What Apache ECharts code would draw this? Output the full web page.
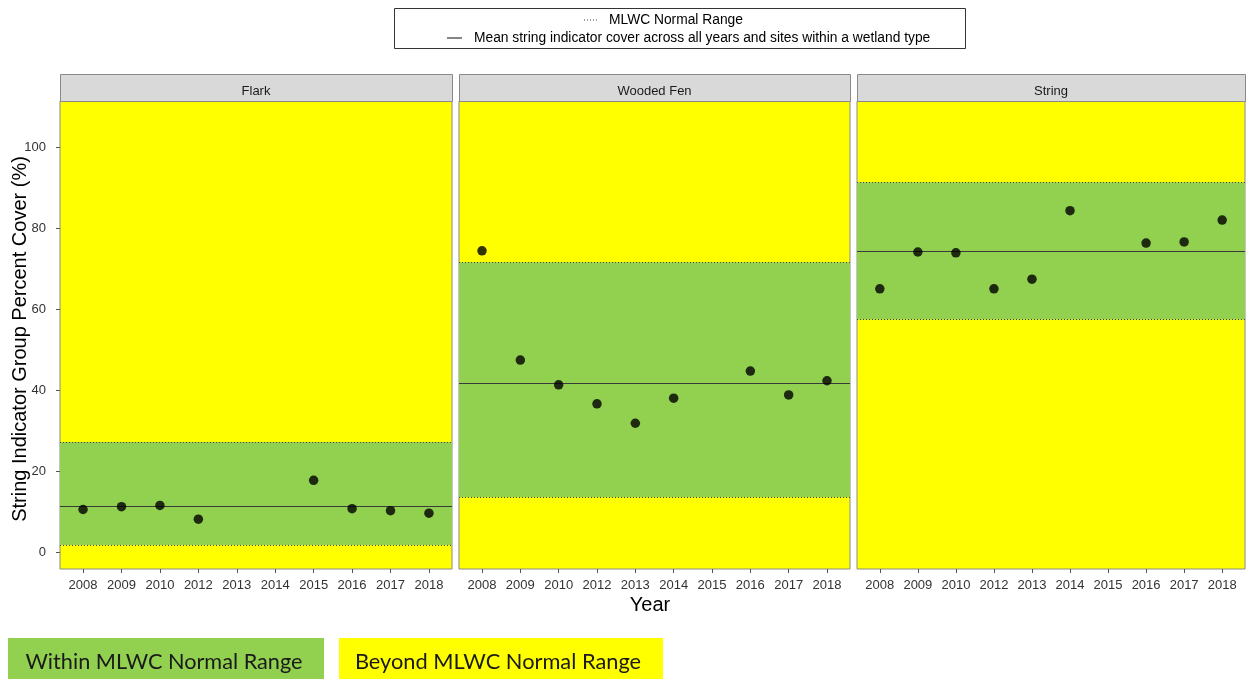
<!DOCTYPE html>
<html>
<head>
<meta charset="utf-8">
<script src="https://cdn.jsdelivr.net/npm/echarts@6/dist/echarts.min.js"></script>
<style>
  html, body { margin: 0; padding: 0; background: #ffffff; }
  #chart { width: 1246px; height: 679px; }
</style>
</head>
<body>
<div id="chart"></div>
<script>
// Survey years shown on each panel's x axis
const years = ['2008', '2009', '2010', '2012', '2013', '2014', '2015', '2016', '2017', '2018'];

// Wetland types (one panel each)
const wetlandTypes = ['Flark', 'Wooded Fen', 'String'];

// String indicator group percent cover per year (null = no survey)
const flarkCover     = [10.5, 11.2, 11.5, 8.1, null, null, 17.7, 10.7, 10.2, 9.6];
const woodedFenCover = [74.4, 47.4, 41.3, 36.6, 31.8, 38.0, null, 44.7, 38.8, 42.3];
const stringCover    = [65.0, 74.1, 73.9, 65.0, 67.4, 84.3, null, 76.3, 76.6, 82.0];

// MLWC normal range (lower, upper) per wetland type
const normalLower = [1.7, 13.5, 57.4];
const normalUpper = [27.2, 71.6, 91.3];

// Mean cover across all years and sites per wetland type
const meanCover = [11.4, 41.7, 74.2];

// Y tick values
const yTicks = [0, 20, 40, 60, 80, 100];

const coverByType = [flarkCover, woodedFenCover, stringCover];

const FONT = 'Liberation Sans, Arial, sans-serif';
const YELLOW = '#FFFF00';
const GREEN = '#92D050';
const FRAME = '#8a8a8a';

const panels = [
  { left: 60,  width: 392 },
  { left: 459, width: 391 },
  { left: 857, width: 388 }
];
const plotTop = 101, plotHeight = 468, stripTop = 74, stripHeight = 27;

const grids = [], xAxes = [], yAxes = [], series = [], graphics = [];

panels.forEach((p, k) => {
  grids.push({
    left: p.left, top: plotTop, width: p.width, height: plotHeight,
    show: true, backgroundColor: YELLOW, borderColor: FRAME, borderWidth: 1
  });
  xAxes.push({
    type: 'value', gridIndex: k, min: -0.6, max: years.length - 0.4,
    position: 'bottom',
    splitLine: { show: false },
    axisLine: { show: false, onZero: false },
    axisTick: { show: true, length: 4, lineStyle: { color: '#555' }, customValues: years.map((_, i) => i) },
    axisLabel: {
      show: true, margin: 10, color: '#333', fontSize: 13, fontFamily: FONT,
      customValues: years.map((_, i) => i),
      formatter: v => years[Math.round(v)]
    }
  });
  yAxes.push({
    type: 'value', gridIndex: k, min: -4.2, max: 111.4,
    position: 'left',
    splitLine: { show: false },
    axisLine: { show: false, onZero: false },
    axisTick: { show: k === 0, length: 4, lineStyle: { color: '#555' }, customValues: yTicks },
    axisLabel: {
      show: k === 0, margin: 14, color: '#333', fontSize: 13, fontFamily: FONT,
      customValues: yTicks
    }
  });

  const data = coverByType[k]
    .map((v, i) => (v === null ? null : [i, v]))
    .filter(d => d !== null);

  series.push({
    type: 'scatter', xAxisIndex: k, yAxisIndex: k, data: data,
    symbol: 'circle', symbolSize: 9.5, silent: true,
    itemStyle: { color: '#000000' },
    z: 5,
    markArea: {
      silent: true,
      itemStyle: { color: GREEN },
      data: [[{ yAxis: normalLower[k] }, { yAxis: normalUpper[k] }]]
    },
    markLine: {
      silent: true, symbol: 'none',
      label: { show: false },
      data: [
        { yAxis: normalLower[k], lineStyle: { type: [1, 2], color: '#444', width: 1 } },
        { yAxis: normalUpper[k], lineStyle: { type: [1, 2], color: '#444', width: 1 } },
        { yAxis: meanCover[k], lineStyle: { type: 'solid', color: '#3a3a3a', width: 1.2 } }
      ]
    }
  });

  // Facet strip
  graphics.push({
    type: 'rect', left: p.left, top: stripTop,
    shape: { width: p.width, height: stripHeight },
    style: { fill: '#D9D9D9', stroke: FRAME, lineWidth: 1 }
  });
  graphics.push({
    type: 'text', x: p.left + p.width / 2, y: stripTop + stripHeight / 2 + 4,
    style: {
      text: wetlandTypes[k], fill: '#1a1a1a', font: '13px ' + FONT,
      align: 'center', verticalAlign: 'middle'
    }
  });
});

// Axis titles
graphics.push({
  type: 'text', x: 20, y: 339, rotation: Math.PI / 2,
  style: {
    text: 'String Indicator Group Percent Cover (%)', fill: '#000',
    font: '20px ' + FONT, align: 'center', verticalAlign: 'middle'
  }
});
graphics.push({
  type: 'text', x: 650, y: 605,
  style: { text: 'Year', fill: '#000', font: '20px ' + FONT, align: 'center', verticalAlign: 'middle' }
});

// Line legend box
graphics.push({
  type: 'rect', left: 394, top: 8,
  shape: { width: 571, height: 40 },
  style: { fill: '#ffffff', stroke: '#333', lineWidth: 1 }
});
graphics.push({
  type: 'line', shape: { x1: 584, y1: 20, x2: 598, y2: 20 },
  style: { stroke: '#444', lineWidth: 1, lineDash: [1, 2] }
});
graphics.push({
  type: 'text', x: 609, y: 20,
  style: { text: 'MLWC Normal Range', fill: '#000', font: '13.8px ' + FONT, verticalAlign: 'middle' }
});
graphics.push({
  type: 'line', shape: { x1: 447, y1: 38, x2: 462, y2: 38 },
  style: { stroke: '#333', lineWidth: 1.2 }
});
graphics.push({
  type: 'text', x: 474, y: 38,
  style: {
    text: 'Mean string indicator cover across all years and sites within a wetland type',
    fill: '#000', font: '13.8px ' + FONT, verticalAlign: 'middle'
  }
});

// Colour key boxes
graphics.push({
  type: 'rect', left: 8, top: 638, shape: { width: 316, height: 41 },
  style: { fill: GREEN }
});
graphics.push({
  type: 'text', x: 164, y: 662,
  style: { text: 'Within MLWC Normal Range', fill: '#1a1a1a', font: '21.7px Lato, sans-serif', align: 'center', verticalAlign: 'middle' }
});
graphics.push({
  type: 'rect', left: 339, top: 638, shape: { width: 324, height: 41 },
  style: { fill: YELLOW }
});
graphics.push({
  type: 'text', x: 498, y: 662,
  style: { text: 'Beyond MLWC Normal Range', fill: '#1a1a1a', font: '21.8px Lato, sans-serif', align: 'center', verticalAlign: 'middle' }
});

const chart = echarts.init(document.getElementById('chart'), null, { renderer: 'canvas' });
chart.setOption({
  animation: false,
  backgroundColor: '#ffffff',
  grid: grids,
  xAxis: xAxes,
  yAxis: yAxes,
  series: series,
  graphic: { elements: graphics }
});
</script>
</body>
</html>
